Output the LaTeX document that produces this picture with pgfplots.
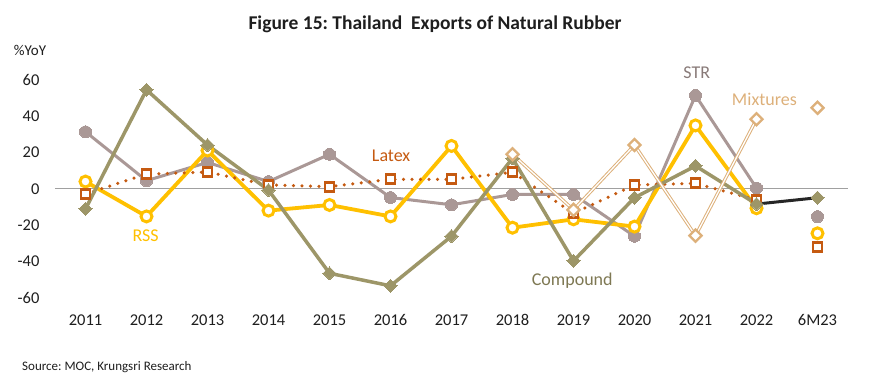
\documentclass[border=0pt]{standalone}
\usepackage{fontspec}
\setmainfont{Carlito}
\usepackage{pgfplots}
\pgfplotsset{compat=1.18}
\definecolor{strc}{RGB}{170,152,150}
\definecolor{rssc}{RGB}{255,192,0}
\definecolor{latexc}{RGB}{197,90,17}
\definecolor{compc}{RGB}{157,150,104}
\definecolor{mixc}{RGB}{221,176,122}
\definecolor{zeroc}{RGB}{160,160,160}
\definecolor{txtc}{RGB}{30,30,30}
\frenchspacing
\begin{document}
\begin{tikzpicture}[x=1pt,y=1pt]
\path[use as bounding box] (0,0) rectangle (870,388);
\node[font=\fontsize{19.5}{23}\selectfont\bfseries, text=txtc] at (435,364) {Figure 15: Thailand\ \ Exports of Natural Rubber};
\node[font=\fontsize{15}{17}\selectfont, text=txtc] at (30,338) {\%YoY};
\node[font=\fontsize{13}{15}\selectfont, text=txtc, anchor=west, inner sep=0pt] at (22,21) {Source: MOC, Krungsri Research};
\begin{axis}[
  at={(55pt,90pt)}, anchor=south west, scale only axis,
  width=793pt, height=218pt,
  xmin=-0.5, xmax=12.5, ymin=-60, ymax=60,
  ytick={-60,-40,...,60},
  xtick={0,...,12},
  xticklabels={2011,2012,2013,2014,2015,2016,2017,2018,2019,2020,2021,2022,6M23},
  axis line style={draw=none},
  major tick length=0pt,
  clip=false,
  unbounded coords=jump,
  /pgf/number format/assume math mode=true,
  ticklabel style={font=\fontsize{16.5}{19}\selectfont, text=txtc},
  yticklabel style={xshift=-12pt},
  xticklabel style={yshift=-13pt},
]
\addplot[zeroc, line width=1pt, forget plot] coordinates {(-0.5,0) (12.5,0)};
% STR
\addplot[strc, line width=3pt, mark=*, mark size=6pt, mark options={solid, fill=strc, draw=strc, line width=0pt}] coordinates {
(0,31.5) (1,4.6) (2,14.6) (3,4.1) (4,19.1) (5,-4.7) (6,-8.7) (7,-3) (8,-3) (9,-26) (10,51.5) (11,0.5) (11.5,nan) (12,-15.2)};
% RSS
\addplot[rssc, line width=3.8pt, mark=*, mark size=5.5pt, mark options={solid, fill=white, draw=rssc, line width=3pt}] coordinates {
(0,4.1) (1,-15.1) (2,21.2) (3,-11.9) (4,-8.8) (5,-15.1) (6,23.7) (7,-21.3) (8,-16.7) (9,-20.7) (10,35) (11,-10.6) (11.5,nan) (12,-24.4)};
% Latex
\addplot[latexc, line width=3.5pt, line cap=round, dash pattern=on 0pt off 8.5pt, mark=square*, mark size=4.5pt, mark options={solid, fill=white, draw=latexc, line width=2.8pt}] coordinates {
(0,-2.7) (1,8.2) (2,9.3) (3,2.2) (4,1.3) (5,5.3) (6,5.3) (7,9.2) (8,-13.4) (9,2.2) (10,3.1) (11,-6) (11.5,nan) (12,-32)};
% Compound
\addplot[black!85, line width=3pt] coordinates {(11,-8.3) (12,-4.8)};
\addplot[compc, line width=3.5pt, mark=square*, mark size=4.6pt, mark options={solid, rotate=45, fill=compc, draw=compc, line width=0pt}] coordinates {
(0,-11) (1,54.6) (2,24.2) (3,-0.6) (4,-46.4) (5,-53.3) (6,-26) (7,16.9) (8,-39.6) (9,-4.8) (10,12.7) (11,-8.3) (11.5,nan) (12,-4.8)};
% Mixtures
\addplot[mixc, line width=1pt, double=white, double distance=1.3pt] coordinates {
(7,19.1) (8,-11.5) (9,24.2) (10,-25.7) (11,38.4)};
\addplot[only marks, mark=square*, mark size=4.3pt, mark options={solid, rotate=45, fill=white, draw=mixc, line width=2.3pt}] coordinates {
(7,19.1) (8,-11.5) (9,24.2) (10,-25.7) (11,38.4) (12,44.7)};
% labels
\node[font=\fontsize{18}{21}\selectfont, text=latexc] at (axis cs:5.01,18.2) {Latex};
\node[font=\fontsize{18}{21}\selectfont, text=rssc] at (axis cs:0.985,-25.9) {RSS};
\node[font=\fontsize{18}{21}\selectfont, text=strc!80!black] at (axis cs:10.02,63.8) {STR};
\node[font=\fontsize{18}{21}\selectfont, text=mixc] at (axis cs:11.13,49.5) {Mixtures};
\node[font=\fontsize{18}{21}\selectfont, text=compc!80!black] at (axis cs:7.98,-50.6) {Compound};
\end{axis}
\end{tikzpicture}
\end{document}
